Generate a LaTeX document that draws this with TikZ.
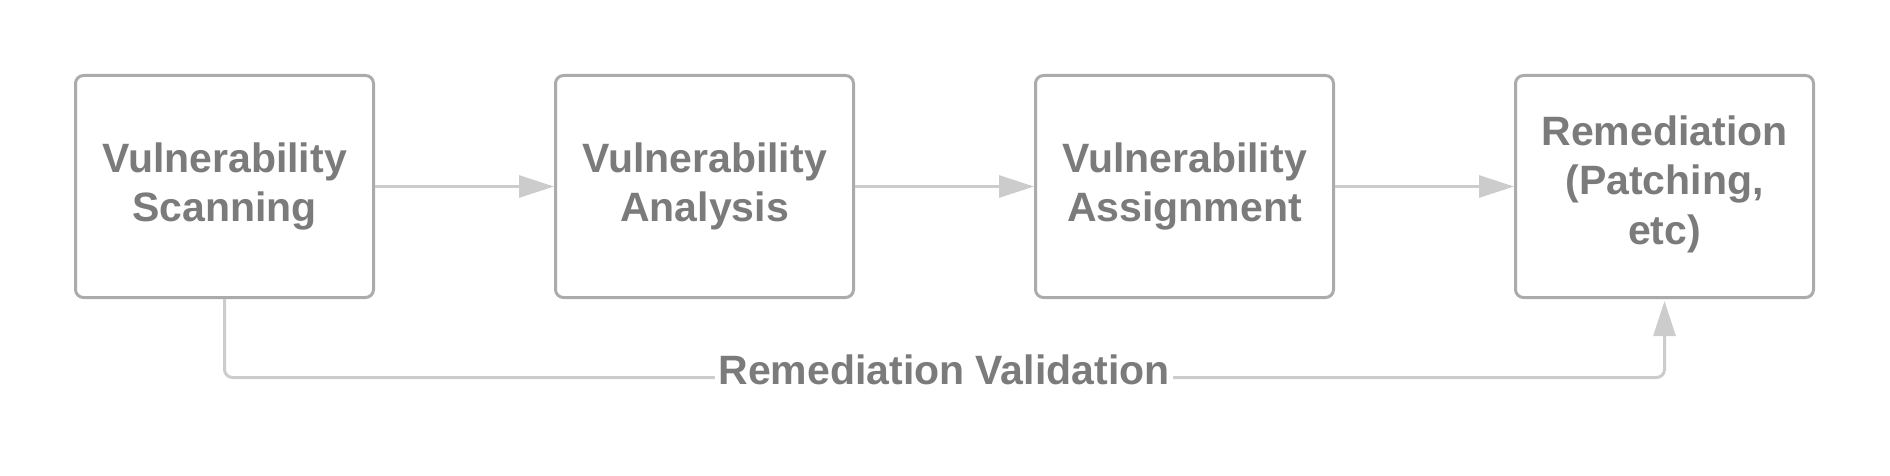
\documentclass[tikz,border=0pt]{standalone}
\usepackage{fontspec}
\setmainfont{Liberation Sans}
\usetikzlibrary{arrows.meta}
\definecolor{boxline}{HTML}{ABABAB}
\definecolor{conncol}{HTML}{CCCCCC}
\definecolor{txtcol}{HTML}{7B7B7B}
\tikzset{
  stepbox/.style={draw=boxline, line width=3pt, rounded corners=8pt, fill=white,
    minimum width=298pt, minimum height=222pt, inner sep=0pt, align=center,
    text=txtcol, font=\fontsize{41}{49.5}\selectfont\bfseries},
  conn/.style={draw=conncol, line width=3pt,
    -{Triangle[length=35pt, width=22pt, color=conncol]}},
  lbl/.style={fill=white, inner xsep=3pt, inner ysep=0pt, text=txtcol,
    font=\fontsize{41}{49.5}\selectfont\bfseries}
}
\begin{document}
\begin{tikzpicture}[x=1pt, y=-1pt]
\useasboundingbox (0,0) rectangle (1890,476);
\node[stepbox] (b1) at (224.5,186.5) {Vulnerability\\Scanning};
\node[stepbox] (b2) at (704.5,186.5) {Vulnerability\\Analysis};
\node[stepbox] (b3) at (1184.5,186.5) {Vulnerability\\Assignment};
\node[stepbox, text depth=13pt] (b4) at (1664.5,186.5) {Remediation\\(Patching,\\etc)};
\draw[conn] (b1.east) -- (b2.west);
\draw[conn] (b2.east) -- (b3.west);
\draw[conn] (b3.east) -- (b4.west);
\draw[conn, rounded corners=8pt, shorten >=2pt] (b1.south) -- ++(0,78.5) -| (b4.south);
\node[lbl, anchor=base] (v) at (944,384) {Remediation Validation};
\end{tikzpicture}
\end{document}
